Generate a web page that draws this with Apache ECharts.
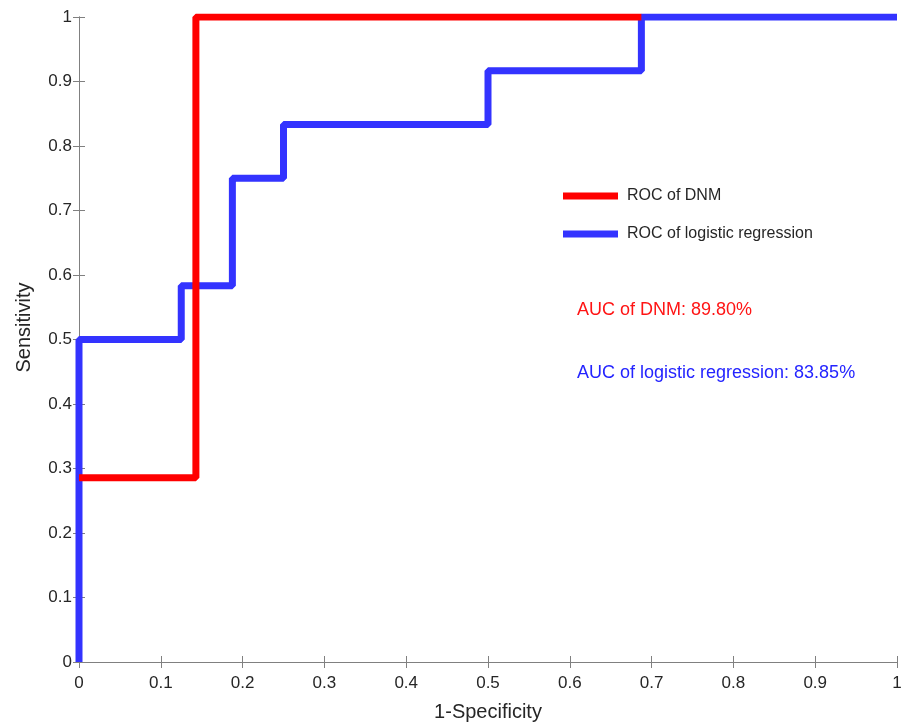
<!DOCTYPE html>
<html>
<head>
    <meta charset="utf-8"/>
    <title>ROC</title>
    <script src="https://cdn.jsdelivr.net/npm/echarts@6/dist/echarts.min.js"></script>
    <style>
        html, body { margin: 0; padding: 0; background: #fff; }
        #main { width: 907px; height: 722px; }
    </style>
</head>
<body>
<div id="main"></div>
<script>
    // ROC step curves, [1-specificity, sensitivity]
    var dnmX = [0, 0.1429, 0.1429, 0.6875];
    var dnmY = [0.2857, 0.2857, 1, 1];
    var logX = [0, 0, 0.125, 0.125, 0.1875, 0.1875, 0.25, 0.25, 0.5, 0.5, 0.6875, 0.6875, 1];
    var logY = [0, 0.5, 0.5, 0.5833, 0.5833, 0.75, 0.75, 0.8333, 0.8333, 0.9167, 0.9167, 1, 1];
    var aucTexts = ['AUC of DNM: 89.80%', 'AUC of logistic regression: 83.85%'];

    function pairs(xs, ys) {
        var out = [];
        for (var i = 0; i < xs.length; i++) out.push([xs[i], ys[i]]);
        return out;
    }

    var axisGray = '#808080';
    var textCol = '#262626';
    var font = 'Liberation Sans, Arial, sans-serif';

    var myChart = echarts.init(document.getElementById('main'));
    var boxAxis = {
        type: 'value', min: 0, max: 1, interval: 0.1,
        axisLine: { show: true, lineStyle: { color: axisGray, width: 1 } },
        axisTick: { show: true, inside: true, length: 6, lineStyle: { color: axisGray } },
        axisLabel: { show: false },
        splitLine: { show: false }
    };
    var option = {
        animation: false,
        grid: { left: 79, right: 10, top: 17, bottom: 60, outerBoundsMode: 'none', containLabel: false },
        xAxis: [
            Object.assign({}, boxAxis, {
                position: 'bottom',
                name: '1-Specificity', nameLocation: 'middle', nameGap: 40,
                nameTextStyle: { color: textCol, fontSize: 20, fontFamily: font },
                axisLabel: { show: true, color: textCol, fontSize: 17, fontFamily: font, margin: 13,
                    formatter: function (v) { return +v.toFixed(1) + ''; } }
            }),
            Object.assign({}, boxAxis, { position: 'top' })
        ],
        yAxis: [
            Object.assign({}, boxAxis, {
                position: 'left',
                name: 'Sensitivity', nameLocation: 'middle', nameGap: 45,
                nameTextStyle: { color: textCol, fontSize: 20, fontFamily: font, padding: [0, 0, 0, 24] },
                axisLabel: { show: true, color: textCol, fontSize: 17, fontFamily: font, margin: 7,
                    formatter: function (v) { return +v.toFixed(1) + ''; } }
            }),
            Object.assign({}, boxAxis, { position: 'right' })
        ],
        legend: {
            orient: 'vertical', left: 558, top: 182,
            icon: 'rect', itemWidth: 55, itemHeight: 7, itemGap: 20,
            textStyle: { color: textCol, fontSize: 16, fontFamily: font, lineHeight: 18, padding: [0, 0, 0, 4] },
            data: ['ROC of DNM', 'ROC of logistic regression']
        },
        graphic: [
            { type: 'text', left: 577, top: 301, style: { text: aucTexts[0], fill: '#ff1414', fontSize: 18, fontFamily: font } },
            { type: 'text', left: 577, top: 364, style: { text: aucTexts[1], fill: '#2424ff', fontSize: 18, fontFamily: font } }
        ],
        series: [
            {
                name: 'ROC of logistic regression', type: 'line', showSymbol: false, z: 2,
                lineStyle: { color: '#3333ff', width: 7 }, itemStyle: { color: '#3333ff' },
                data: pairs(logX, logY)
            },
            {
                name: 'ROC of DNM', type: 'line', showSymbol: false, z: 3,
                lineStyle: { color: '#ff0000', width: 7 }, itemStyle: { color: '#ff0000' },
                data: pairs(dnmX, dnmY)
            }
        ]
    };
    myChart.setOption(option);
</script>
</body>
</html>
